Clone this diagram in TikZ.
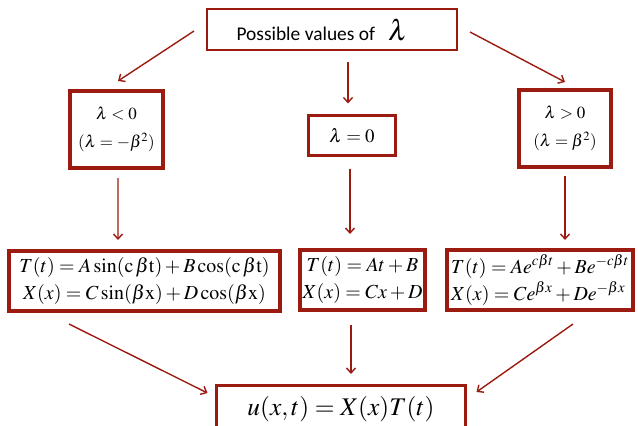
\documentclass[tikz,border=0pt]{standalone}
\usepackage{mathptmx}
\usepackage[no-math]{fontspec}
\newfontfamily\calib{Carlito}
\usetikzlibrary{arrows.meta,calc,shadows}
\definecolor{dred}{RGB}{155,27,16}
\tikzset{
  box/.style={draw=dred, fill=white, outer sep=0pt, inner sep=0pt,
    drop shadow={opacity=0.25, shadow xshift=1.2bp, shadow yshift=-1.2bp}},
  arr/.style={draw=dred, line width=1.4bp, -{Straight Barb[length=5bp,width=9bp]}},
  small/.style={font=\fontsize{17}{28}\selectfont, align=center},
  eqn/.style={font=\fontsize{20}{27}\selectfont},
}
\begin{document}
\begin{tikzpicture}[x=1bp,y=-1bp]
\useasboundingbox (0,0) rectangle (638,425);
% boxes
\node[box, line width=2.5bp, minimum width=250bp, minimum height=41bp] (top) at (332,29.5)
  {{\calib\fontsize{19.5}{22}\selectfont Possible values of}\hspace{13bp}{\fontsize{29}{32}\selectfont$\lambda$}\hspace*{20bp}};
\node[box, small, line width=4bp, minimum width=93bp, minimum height=77bp] (L1) at (116.5,129.5)
  {$\lambda < 0$\\ $(\lambda = -\beta^2)$};
\node[box, line width=3bp, minimum width=87bp, minimum height=40bp, font=\fontsize{19}{22}\selectfont] (M1) at (352,135.5)
  {$\lambda = 0$};
\node[box, small, line width=4bp, minimum width=92bp, minimum height=77bp] (R1) at (565,128.5)
  {$\lambda > 0$\\ $(\lambda = \beta^2)$};
\node[box, eqn, line width=4bp, minimum width=271bp, minimum height=60bp, align=center] (L2) at (144.5,281)
  {$T(t) = A\sin(\mathrm{c}\,\beta\mathrm{t}) + B\cos(\mathrm{c}\,\beta\mathrm{t})$\\
   $X(x) = C\sin(\beta\mathrm{x}) + D\cos(\beta\mathrm{x})$};
\node[box, eqn, line width=4bp, minimum width=125bp, minimum height=60bp, align=center] (M2) at (362.5,280)
  {$T(t) = At + B$\\ $X(x) = Cx + D$};
\node[box, eqn, line width=4bp, minimum width=186bp, minimum height=60bp, align=left] (R2) at (540,280)
  {$T(t) = Ae^{c\beta t} + Be^{-c\beta t}$\\ $X(x) = Ce^{\beta x} + De^{-\beta x}$};
\node[box, line width=3bp, minimum width=249bp, minimum height=48bp, font=\fontsize{25.5}{30}\selectfont] (F) at (341,409)
  {$u(x,t) = X(x)T(t)$};
% arrows
\draw[arr] ($(top.west)+(-13,1.5)$) -- ($(L1.north)+(1.5,-10)$);
\draw[arr] ($(top.south)+(16,12)$) -- ($(M1.north)+(-4,-12)$);
\draw[arr] ($(top.east)+(13,2.5)$) -- ($(R1.north)+(0,-8)$);
\draw[arr] ($(L1.south)+(1.5,10)$) -- ($(L2.north)+(-26.5,-11)$);
\draw[arr] ($(M1.south)+(-2,13)$) -- ($(M2.north)+(-12.5,-16)$);
\draw[arr] ($(R1.south)+(0,9)$) -- ($(R2.north)+(25,-10)$);
\draw[arr] ($(L2.south)+(-75.5,13)$) -- ($(F.west)+(-9,-16)$);
\draw[arr] ($(M2.south)+(-11.5,15)$) -- ($(F.north)+(10,-11)$);
\draw[arr] ($(R2.south)+(33,14)$) -- ($(F.east)+(11,-17)$);
\end{tikzpicture}
\end{document}
